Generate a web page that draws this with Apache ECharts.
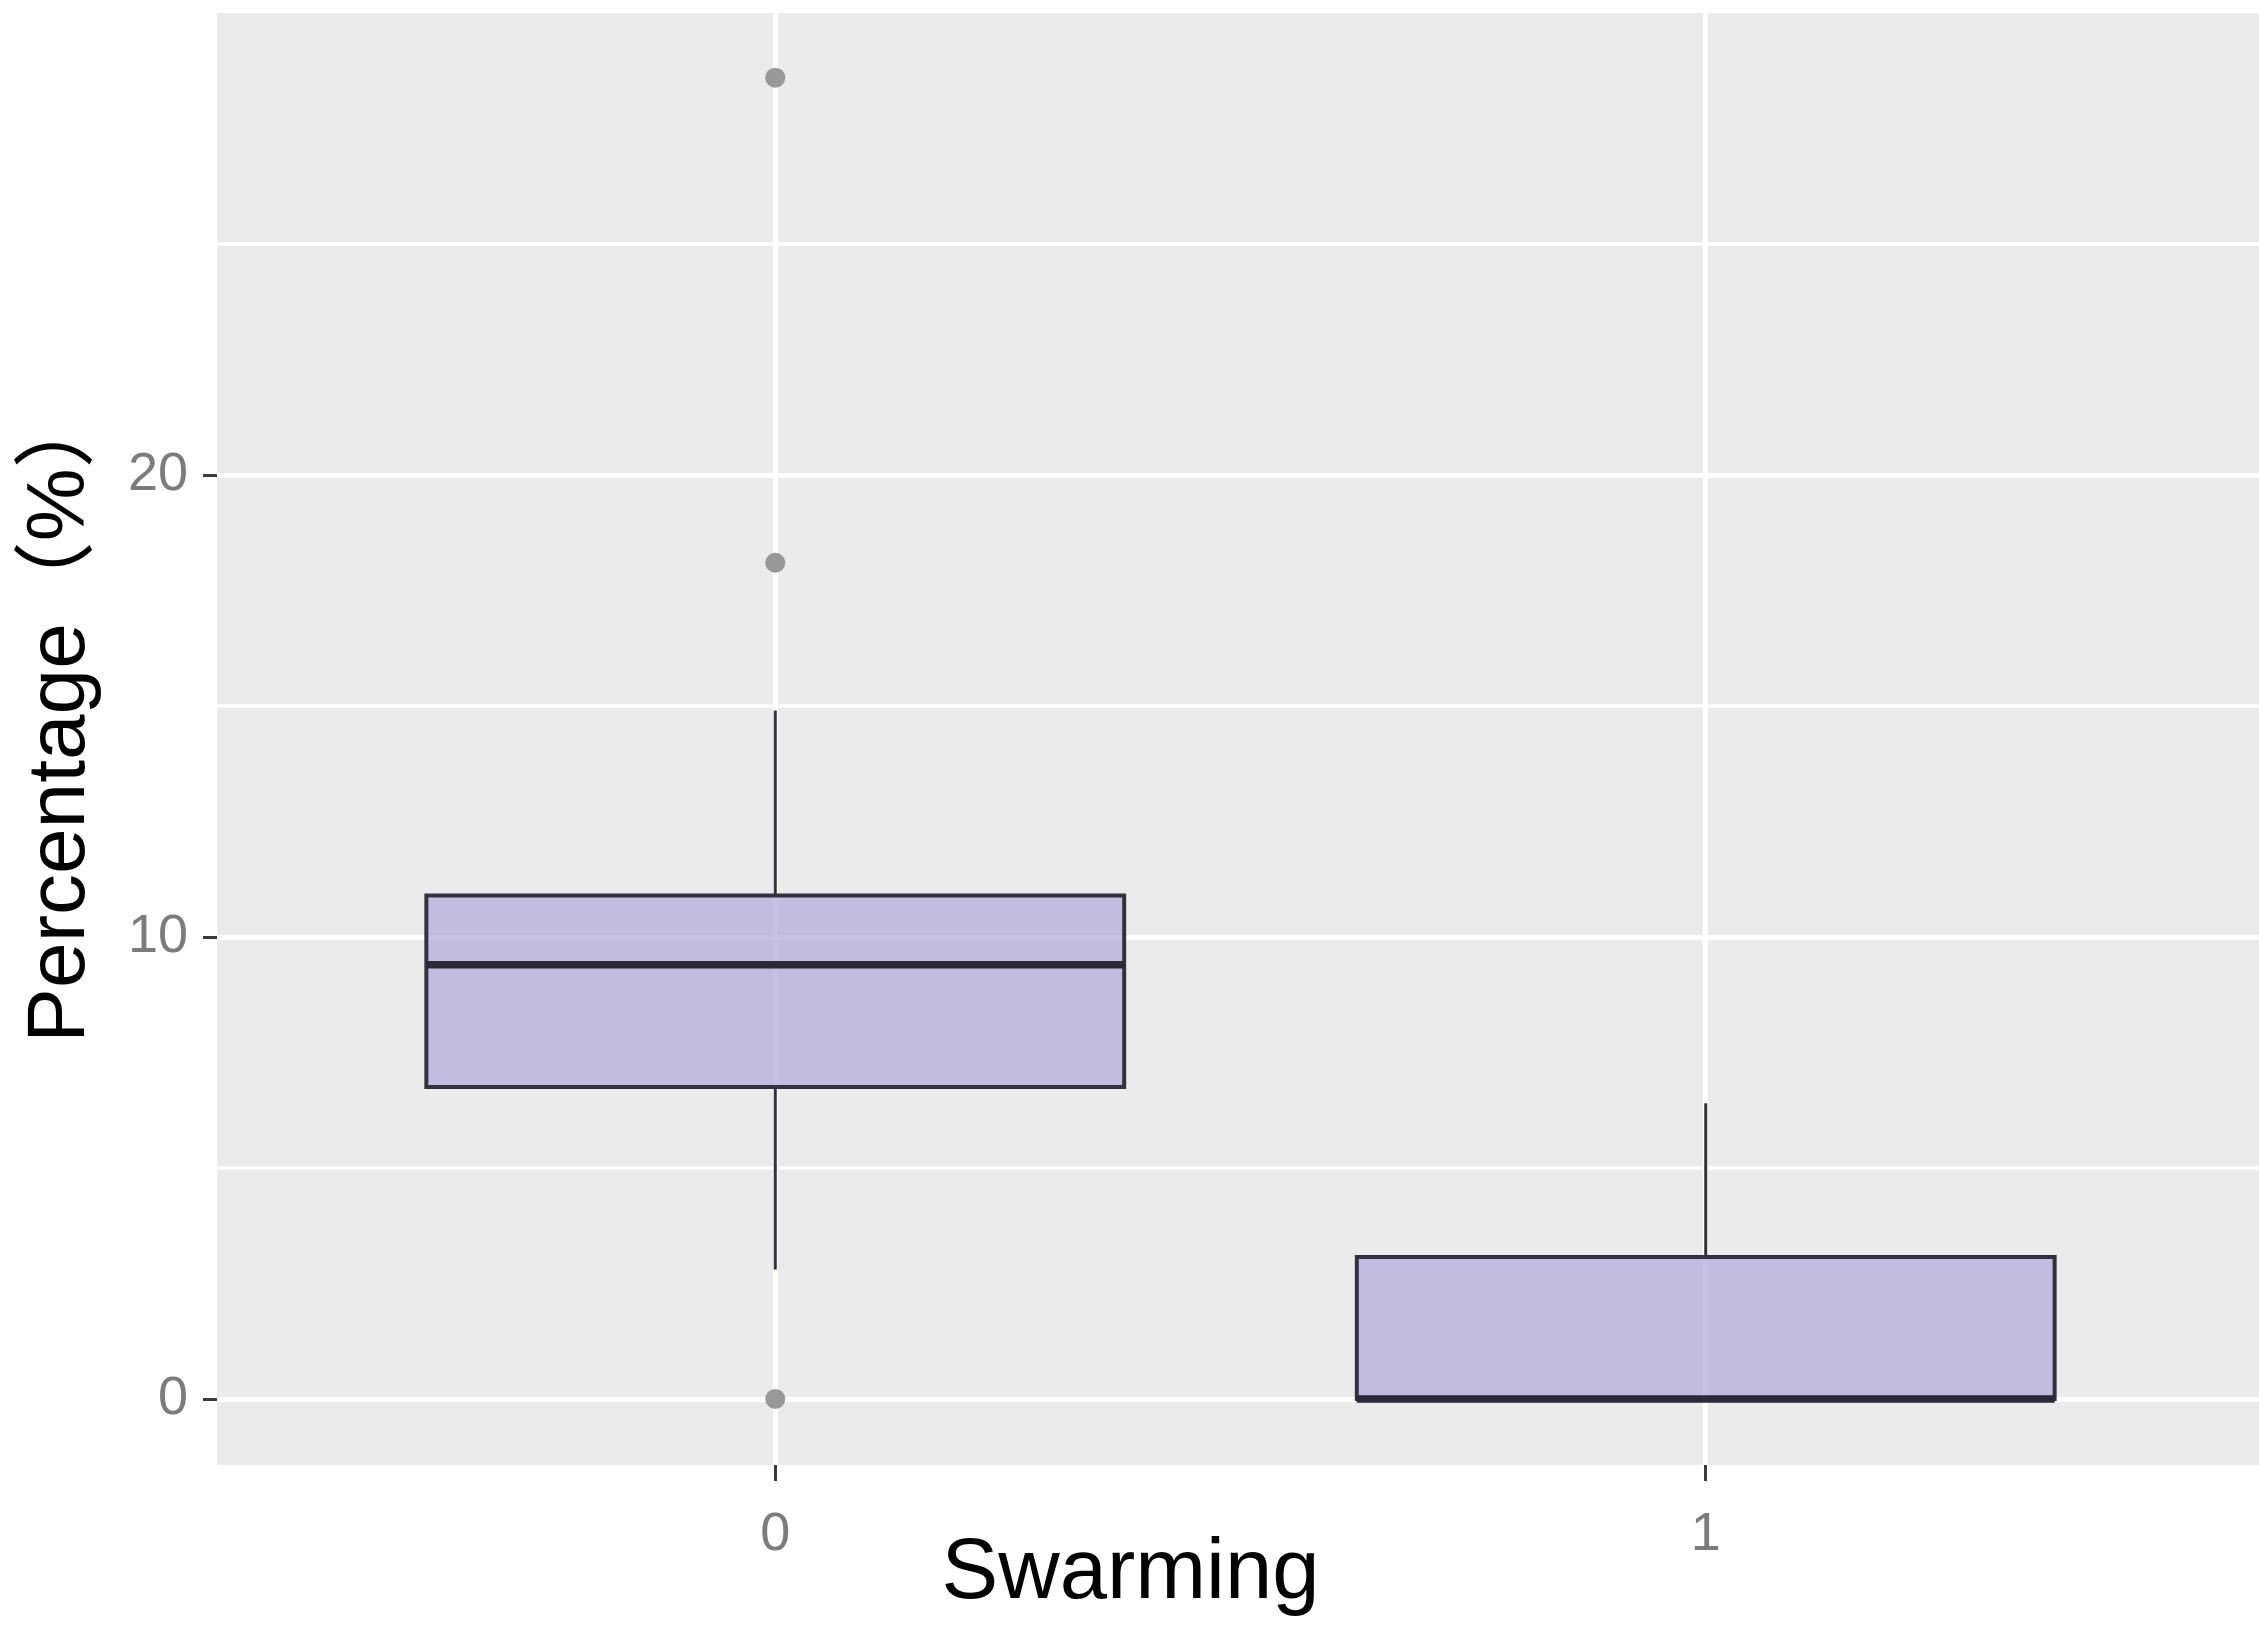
<!DOCTYPE html>
<html>
<head>
<meta charset="utf-8">
<script src="https://cdn.jsdelivr.net/npm/echarts@6/dist/echarts.min.js"></script>
<style>
  html, body { margin: 0; padding: 0; background: #ffffff; }
  #chart { width: 2259px; height: 1626px; }
</style>
</head>
<body>
<div id="chart"></div>
<script>
// ---- data ----
const categories = ['0', '1'];          // Swarming groups
const whiskerLow = [2.8, 0];
const q1Values = [6.75, 0];
const medianValues = [9.4, 0];
const q3Values = [10.9, 3.07];
const whiskerHigh = [14.9, 6.4];
const outlierGroup = [0, 0, 0];          // index into categories
const outlierValues = [28.6, 18.1, 0];
const yTickLabels = [0, 10, 20];
const yMinorLines = [5, 15, 25];

// ---- build series data ----
const boxData = categories.map((c, i) => [i + 1, whiskerLow[i], q1Values[i], medianValues[i], q3Values[i], whiskerHigh[i]]);
const outlierData = outlierValues.map((v, i) => [outlierGroup[i] + 1, v]);
const xPositions = categories.map((c, i) => i + 1);

const BOX_WIDTH = 0.75;     // in category units
const STROKE = '#34313f';
const FILL = 'rgba(178,169,219,0.72)';

function hasFont(name) {
  const ctx = document.createElement('canvas').getContext('2d');
  const s = '0123456789 abcdefgh';
  ctx.font = '40px monospace';
  const w1 = ctx.measureText(s).width;
  ctx.font = '40px "' + name + '", monospace';
  return Math.abs(ctx.measureText(s).width - w1) > 0.5;
}
const narrow = hasFont('Liberation Sans Narrow');
const tickFont = narrow ? "'Liberation Sans Narrow', sans-serif" : "'Liberation Sans', sans-serif";
const tickSize = narrow ? 62 : 54;
const titleFont = "'Liberation Sans', 'Noto Sans CJK SC', sans-serif";

const chart = echarts.init(document.getElementById('chart'));
chart.setOption({
  animation: false,
  backgroundColor: '#ffffff',
  grid: {
    left: 217, top: 13, width: 2047, height: 1452,
    outerBoundsMode: 'none', containLabel: false,
    show: true, backgroundColor: '#EBEBEB', borderWidth: 0
  },
  xAxis: {
    type: 'value', min: 0.4, max: 2.6,
    name: 'Swarming', nameLocation: 'middle', nameGap: 67, nameMoveOverlap: false,
    nameTextStyle: { fontSize: 85, color: '#000000', fontFamily: titleFont, padding: [0, 220, 0, 0] },
    axisLine: { show: false, onZero: false },
    axisTick: { show: true, customValues: xPositions, length: 16, lineStyle: { color: '#3a3a3a', width: 3 } },
    axisLabel: {
      customValues: xPositions, margin: 43, fontSize: tickSize, color: '#7c7c7c', fontFamily: tickFont,
      formatter: v => categories[Math.round(v) - 1]
    },
    splitLine: { show: true, lineStyle: { color: '#ffffff', width: 5 } }
  },
  yAxis: [{
    type: 'value', min: -1.43, max: 30.0,
    name: 'Percentage（%）', nameLocation: 'middle', nameGap: 115, nameMoveOverlap: false,
    nameTextStyle: { fontSize: 82, color: '#000000', fontFamily: titleFont, padding: [0, 0, 0, 49] },
    axisLine: { show: false, onZero: false },
    axisTick: { show: true, customValues: yTickLabels, length: 14, lineStyle: { color: '#3a3a3a', width: 3 } },
    axisLabel: { customValues: yTickLabels, margin: 29, fontSize: tickSize, color: '#7c7c7c', fontFamily: tickFont },
    splitLine: { show: true, lineStyle: { color: '#ffffff', width: 5 } }
  }, {
    type: 'value', min: -1.43, max: 30.0, position: 'left',
    axisLine: { show: false, onZero: false },
    axisTick: { show: false, customValues: yMinorLines },
    axisLabel: { show: false, customValues: yMinorLines },
    splitLine: { show: true, lineStyle: { color: '#ffffff', width: 3.5 } }
  }],
  series: [{
    type: 'custom',
    data: boxData,
    encode: { x: 0, y: [1, 2, 3, 4, 5] },
    z: 3,
    renderItem: function (params, api) {
      const x = api.value(0);
      const pLo = api.coord([x, api.value(1)]);
      const pQ1 = api.coord([x, api.value(2)]);
      const pMed = api.coord([x, api.value(3)]);
      const pQ3 = api.coord([x, api.value(4)]);
      const pHi = api.coord([x, api.value(5)]);
      const half = api.size([BOX_WIDTH, 0])[0] / 2;
      const children = [
        { type: 'line', shape: { x1: pHi[0], y1: pHi[1], x2: pQ3[0], y2: pQ3[1] }, style: { stroke: STROKE, lineWidth: 3 } },
        { type: 'line', shape: { x1: pLo[0], y1: pLo[1], x2: pQ1[0], y2: pQ1[1] }, style: { stroke: STROKE, lineWidth: 3 } },
        { type: 'rect', shape: { x: pQ3[0] - half, y: pQ3[1], width: half * 2, height: pQ1[1] - pQ3[1] }, style: { fill: FILL, stroke: STROKE, lineWidth: 4 } },
        { type: 'line', shape: { x1: pMed[0] - half, y1: pMed[1], x2: pMed[0] + half, y2: pMed[1] }, style: { stroke: '#2b2837', lineWidth: 7.5 } }
      ];
      return { type: 'group', children: children };
    }
  }, {
    type: 'scatter',
    data: outlierData,
    symbol: 'circle',
    symbolSize: 20,
    z: 4,
    itemStyle: { color: '#939393', opacity: 0.95 }
  }]
});
</script>
</body>
</html>
